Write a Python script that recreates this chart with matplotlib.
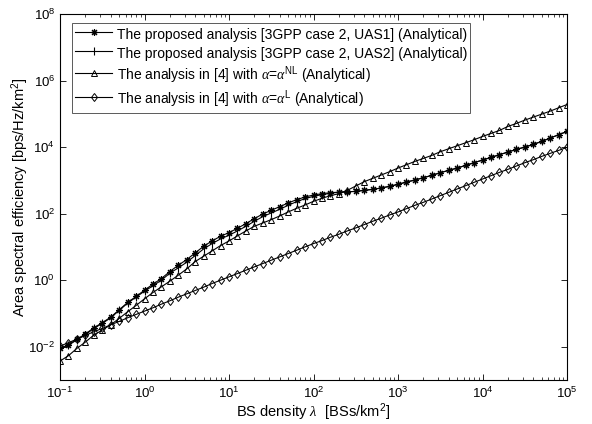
import matplotlib
matplotlib.use("Agg")
import matplotlib.pyplot as plt
import matplotlib.ticker as mticker
import numpy as np

plt.rcParams['font.family'] = ['Liberation Sans', 'DejaVu Sans']
plt.rcParams['mathtext.fontset'] = 'custom'
plt.rcParams['mathtext.rm'] = 'Liberation Sans'
plt.rcParams['mathtext.it'] = 'Liberation Serif:italic'
plt.rcParams['mathtext.default'] = 'regular'

# BS density, log10 of lambda [BSs/km^2], 10 points per decade
log_density = [-1.0, -0.9, -0.8, -0.7, -0.6, -0.5, -0.4, -0.3, -0.2, -0.1,
               0.0, 0.1, 0.2, 0.3, 0.4, 0.5, 0.6, 0.7, 0.8, 0.9,
               1.0, 1.1, 1.2, 1.3, 1.4, 1.5, 1.6, 1.7, 1.8, 1.9,
               2.0, 2.1, 2.2, 2.3, 2.4, 2.5, 2.6, 2.7, 2.8, 2.9,
               3.0, 3.1, 3.2, 3.3, 3.4, 3.5, 3.6, 3.7, 3.8, 3.9,
               4.0, 4.1, 4.2, 4.3, 4.4, 4.5, 4.6, 4.7, 4.8, 4.9, 5.0]

# log10 of ASE [bps/Hz/km^2]
ase_uas1 = [-2.05, -1.94, -1.77, -1.62, -1.43, -1.28, -1.11, -0.89, -0.67, -0.49,
            -0.30, -0.12, 0.05, 0.26, 0.45, 0.62, 0.82, 1.02, 1.18, 1.32,
            1.43, 1.56, 1.70, 1.85, 1.99, 2.10, 2.21, 2.32, 2.42, 2.50,
            2.56, 2.60, 2.63, 2.645, 2.655, 2.67, 2.70, 2.73, 2.77, 2.82,
            2.88, 2.95, 3.01, 3.08, 3.15, 3.23, 3.30, 3.37, 3.45, 3.53,
            3.61, 3.69, 3.77, 3.85, 3.93, 4.00, 4.08, 4.17, 4.27, 4.37, 4.47]

ase_uas2 = [-2.07, -1.96, -1.79, -1.64, -1.45, -1.30, -1.13, -0.91, -0.69, -0.51,
            -0.33, -0.17, 0.00, 0.21, 0.37, 0.54, 0.74, 0.94, 1.10, 1.24,
            1.35, 1.48, 1.62, 1.77, 1.91, 2.02, 2.13, 2.25, 2.36, 2.45,
            2.52, 2.57, 2.61, 2.645, 2.655, 2.67, 2.70, 2.73, 2.77, 2.82,
            2.88, 2.95, 3.01, 3.08, 3.15, 3.23, 3.30, 3.37, 3.45, 3.53,
            3.61, 3.69, 3.77, 3.85, 3.93, 4.00, 4.08, 4.17, 4.27, 4.37, 4.47]

ase_nlos = [-2.43, -2.27, -2.05, -1.86, -1.65, -1.50, -1.34, -1.15, -0.95, -0.76,
            -0.56, -0.37, -0.20, -0.03, 0.15, 0.34, 0.56, 0.72, 0.88, 1.04,
            1.18, 1.33, 1.48, 1.62, 1.72, 1.82, 1.93, 2.05, 2.16, 2.26,
            2.37, 2.46, 2.54, 2.60, 2.70, 2.83, 2.96, 3.06, 3.16, 3.26,
            3.37, 3.47, 3.57, 3.66, 3.75, 3.86, 3.95, 4.04, 4.13, 4.22,
            4.32, 4.41, 4.50, 4.62, 4.71, 4.81, 4.90, 4.99, 5.08, 5.18, 5.28]

ase_los = [-1.98, -1.88, -1.77, -1.66, -1.55, -1.45, -1.34, -1.24, -1.13, -1.03,
           -0.93, -0.83, -0.72, -0.62, -0.51, -0.41, -0.31, -0.21, -0.10, 0.00,
           0.10, 0.20, 0.30, 0.40, 0.50, 0.60, 0.70, 0.80, 0.90, 1.00,
           1.10, 1.19, 1.29, 1.38, 1.48, 1.57, 1.67, 1.77, 1.86, 1.96,
           2.05, 2.15, 2.25, 2.34, 2.44, 2.54, 2.64, 2.74, 2.84, 2.94,
           3.04, 3.14, 3.24, 3.33, 3.43, 3.53, 3.62, 3.72, 3.81, 3.90, 3.99]

labels = [
    'The proposed analysis [3GPP case 2, UAS1] (Analytical)',
    'The proposed analysis [3GPP case 2, UAS2] (Analytical)',
    r'The analysis in [4] with $\mathit{\alpha}$=$\mathit{\alpha}^{\mathrm{NL}}$ (Analytical)',
    r'The analysis in [4] with $\mathit{\alpha}$=$\mathit{\alpha}^{\mathrm{L}}$ (Analytical)',
]

density = 10 ** np.array(log_density)

fig = plt.figure(figsize=(5.92, 4.24), dpi=100)
ax = fig.add_axes([60 / 592, 1 - 380 / 424, 507 / 592, 366 / 424])

lw = 0.8
ax.plot(density, 10 ** np.array(ase_uas1), color='k', lw=lw, marker=(8, 2, 0),
        ms=5, mew=0.8, label=labels[0])
ax.plot(density, 10 ** np.array(ase_uas2), color='k', lw=lw, marker='|',
        ms=5.5, mew=0.8, label=labels[1])
ax.plot(density, 10 ** np.array(ase_nlos), color='k', lw=lw, marker='^',
        ms=4, mew=0.7, mfc='none', label=labels[2])
ax.plot(density, 10 ** np.array(ase_los), color='k', lw=lw, marker='d',
        ms=4.5, mew=0.7, mfc='none', label=labels[3])

ax.set_xscale('log')
ax.set_yscale('log')
ax.set_xlim(1e-1, 1e5)
ax.set_ylim(1e-3, 1e8)

ax.yaxis.set_major_locator(mticker.FixedLocator([1e-2, 1e0, 1e2, 1e4, 1e6, 1e8]))
ax.yaxis.set_minor_locator(mticker.NullLocator())
ax.xaxis.set_major_locator(mticker.LogLocator(base=10, numticks=20))
ax.xaxis.set_minor_locator(mticker.LogLocator(base=10, subs=np.arange(2, 10), numticks=20))

ax.tick_params(which='both', direction='in', top=True, right=True, labelsize=9.5)
ax.tick_params(which='major', length=4, width=0.6)
ax.tick_params(axis='x', which='major', pad=4)
ax.tick_params(axis='y', which='major', pad=3.5)
ax.tick_params(which='minor', length=2, width=0.5)
for s in ax.spines.values():
    s.set_linewidth(0.8)

ax.set_xlabel(r'BS density $\mathit{\lambda}$  [BSs/km$^2$]', fontsize=10.5)
ax.set_ylabel('Area spectral efficiency [bps/Hz/km$^2$]', fontsize=10.5)
ax.xaxis.set_label_coords(0.5, -0.058)
ax.yaxis.set_label_coords(-0.058, 0.5)

leg = ax.legend(loc='upper left', bbox_to_anchor=(0.024, 0.976), borderaxespad=0,
                fontsize=10, handlelength=2.7, handletextpad=0.3, labelspacing=0.17,
                handleheight=1.5, fancybox=False, framealpha=1, edgecolor='#404040',
                borderpad=0.2)
leg.get_frame().set_linewidth(0.6)

fig.savefig('out.png', dpi=100)
